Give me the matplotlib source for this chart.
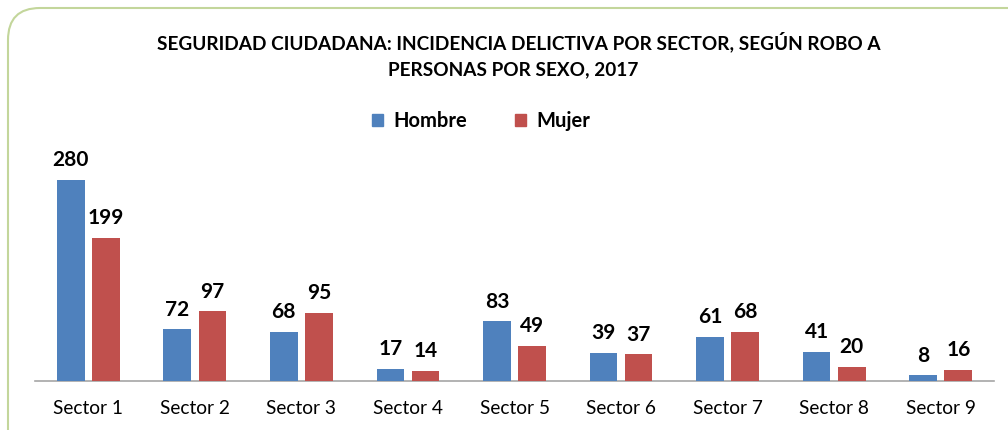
import matplotlib.pyplot as plt
from matplotlib.patches import FancyBboxPatch, Patch
from matplotlib.transforms import IdentityTransform
import numpy as np

# data
sectores = ["Sector 1", "Sector 2", "Sector 3", "Sector 4", "Sector 5",
            "Sector 6", "Sector 7", "Sector 8", "Sector 9"]
hombre = [280, 72, 68, 17, 83, 39, 61, 41, 8]
mujer = [199, 97, 95, 14, 49, 37, 68, 20, 16]

azul = "#4F81BD"
rojo = "#C0504D"

plt.rcParams["font.family"] = ["Lato", "DejaVu Sans"]

W, H = 1008, 430
fig = plt.figure(figsize=(W / 100, H / 100), dpi=100)

# rounded border in pixel coords (cut off at right and bottom like the original)
border = FancyBboxPatch((8, -60), 1100, H - 8 + 60,
                        boxstyle="round,pad=0,rounding_size=32",
                        transform=IdentityTransform(), fill=False,
                        edgecolor="#C3D69B", linewidth=1.5)
fig.patches.append(border)

# axes: baseline at y=381, x from 35 to 994
ax = fig.add_axes([35 / W, (H - 381) / H, 959 / W, 231 / H])
x = np.arange(len(sectores))
bw = 0.26
off = 0.165
b1 = ax.bar(x - off, hombre, bw, color=azul, zorder=3)
b2 = ax.bar(x + off, mujer, bw, color=rojo, zorder=3)

ax.set_xlim(-0.5, len(sectores) - 0.5)
ax.set_ylim(0, 231 / 0.718)

for rects, vals in ((b1, hombre), (b2, mujer)):
    for r, v in zip(rects, vals):
        ax.annotate(str(v), (r.get_x() + r.get_width() / 2, r.get_height()),
                    xytext=(0, 7), textcoords="offset points",
                    ha="center", va="bottom", fontsize=15, fontweight="bold")

ax.set_xticks(x)
ax.set_xticklabels(sectores, fontsize=13.8)
ax.tick_params(axis="x", length=0, pad=14)
ax.set_yticks([])
for s in ["top", "right", "left"]:
    ax.spines[s].set_visible(False)
ax.spines["bottom"].set_color("#A6A6A6")
ax.spines["bottom"].set_linewidth(1.2)
ax.patch.set_visible(False)

fig.text(519 / W, 1 - 42 / H, "SEGURIDAD CIUDADANA: INCIDENCIA DELICTIVA POR SECTOR, SEGÚN ROBO A",
         ha="center", va="center", fontsize=13.7, fontweight="bold")
fig.text(513 / W, 1 - 70 / H, "PERSONAS POR SEXO, 2017",
         ha="center", va="center", fontsize=13.7, fontweight="bold")

handles = [Patch(color=azul), Patch(color=rojo)]
fig.legend(handles, ["Hombre", "Mujer"], loc="center", bbox_to_anchor=(481 / W, 1 - 121 / H),
           ncol=2, frameon=False, handlelength=0.55, handleheight=0.55, handletextpad=0.5,
           columnspacing=2.4, prop={"weight": "bold", "size": 14.5})

fig.savefig("out.png", dpi=100)
